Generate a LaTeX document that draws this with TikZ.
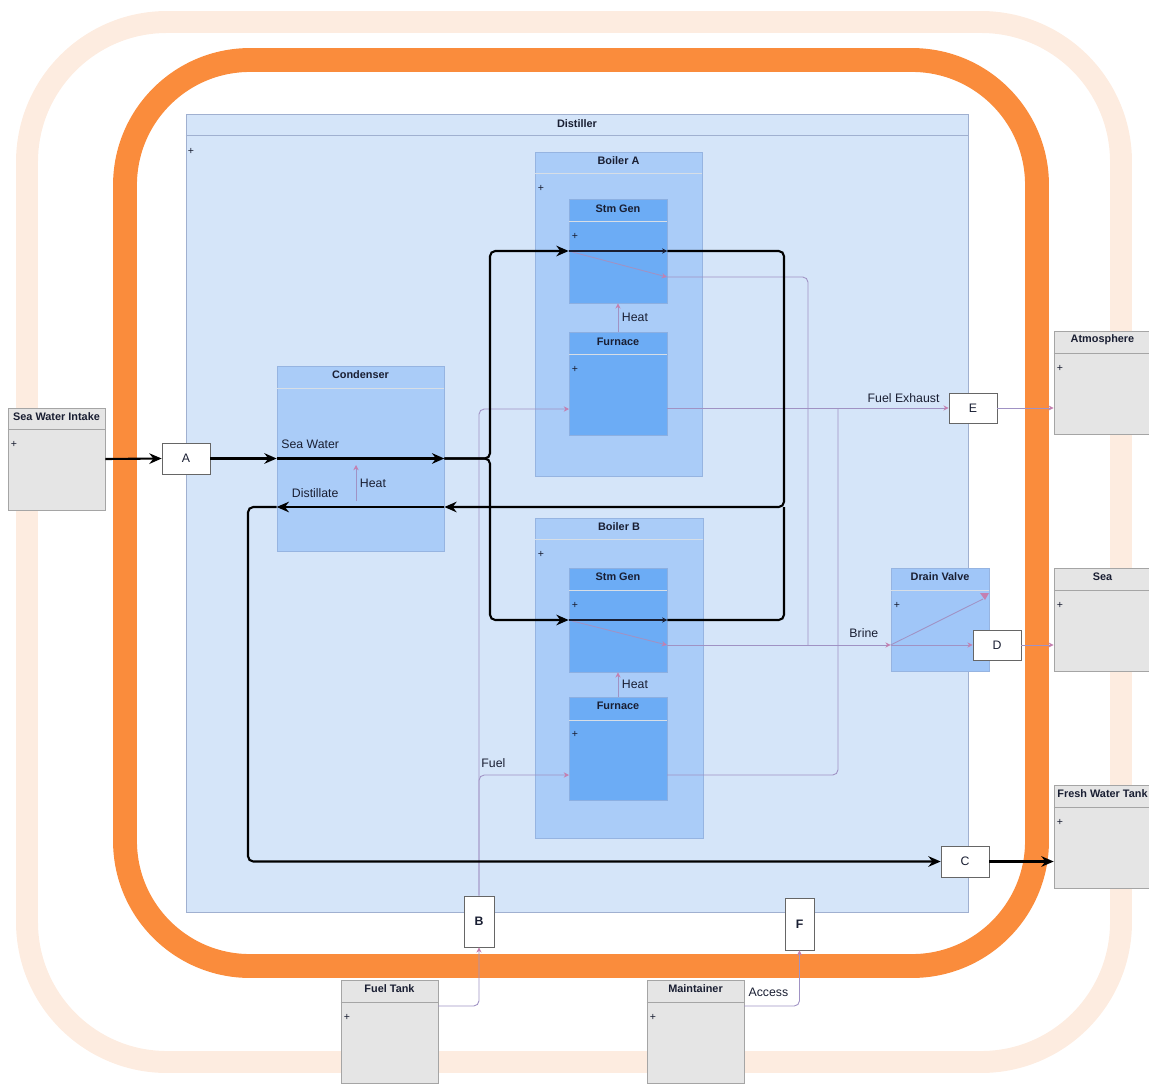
\documentclass[tikz,border=0pt]{standalone}
\usepackage{fontspec}
\setmainfont{Liberation Sans}
\usetikzlibrary{arrows.meta,calc}

\definecolor{ringc}{RGB}{250,140,60}
\definecolor{haloc}{RGB}{253,236,224}
\definecolor{distfill}{RGB}{213,229,249}
\definecolor{distline}{RGB}{160,176,208}
\definecolor{boilfill}{RGB}{170,204,248}
\definecolor{boilline}{RGB}{150,180,225}
\definecolor{partfill}{RGB}{108,172,245}
\definecolor{partline}{RGB}{140,175,225}
\definecolor{hdrline}{RGB}{215,222,230}
\definecolor{extfill}{RGB}{229,229,229}
\definecolor{extline}{RGB}{165,165,165}
\definecolor{linkc}{RGB}{160,146,196}
\definecolor{tipc}{RGB}{196,128,176}
\definecolor{inkc}{RGB}{25,30,50}

\tikzstyle{box}=[rectangle, draw, inner sep=0pt]
\tikzstyle{distbox}=[box, fill=distfill, draw=distline]
\tikzstyle{boilbox}=[box, fill=boilfill, draw=boilline]
\tikzstyle{partbox}=[box, fill=partfill, draw=partline]
\tikzstyle{extbox}=[box, fill=extfill, draw=extline]
\tikzstyle{port}=[box, fill=white, draw=black!60, text=inkc, font=\fontsize{7}{8}\selectfont]
\tikzstyle{hdr}=[draw=hdrline, line width=0.5pt]
\tikzstyle{exthdr}=[draw=extline, line width=0.5pt]
\tikzstyle{title}=[inner sep=0pt, text=inkc, font=\bfseries\fontsize{6.2}{7}\selectfont]
\tikzstyle{lbl}=[inner sep=2pt, text=inkc, font=\fontsize{7}{8}\selectfont]
\tikzstyle{plus}=[inner sep=0pt, text=inkc, font=\fontsize{6}{6}\selectfont]
\tikzstyle{flow}=[line width=1.2pt, rounded corners=3pt, >={Stealth[length=7pt,width=6pt]}]
\tikzstyle{link}=[line width=0.5pt, draw=linkc, rounded corners=3pt, >={Stealth[length=3pt,width=3pt,color=tipc]}]
\tikzstyle{inner}=[line width=0.6pt, draw=inkc, >={Stealth[length=3pt,width=3pt]}]

\begin{document}
\begin{tikzpicture}[x=0.02cm, y=-0.02cm]
\useasboundingbox (0,0) rectangle (1149,1085);

% boundary rings
\draw[haloc, line width=12.5pt, rounded corners=2.8cm] (27,22) rectangle (1121,1062);
\draw[ringc, line width=13.6pt, rounded corners=2.5cm] (125,60) rectangle (1037,966);

% distiller
\node[distbox, minimum width=15.64cm, minimum height=15.96cm] at (577,513) (dist) {};
\draw[distline, line width=0.5pt] ([yshift=-0.44cm]dist.north west) -- ([yshift=-0.44cm]dist.north east);
\node[title] at (577,124) (distT) {Distiller};
\node[plus] at (191,151) (distP) {+};

% boiler A
\node[boilbox, minimum width=3.34cm, minimum height=6.48cm] at (618.5,314) (boA) {};
\draw[hdr] ([yshift=-0.44cm]boA.north west) -- ([yshift=-0.44cm]boA.north east);
\node[title] at (618.5,161) (boAT) {Boiler A};
\node[plus] at (541,188) (boAP) {+};

\node[partbox, minimum width=1.96cm, minimum height=2.08cm] at (618,251) (sgA) {};
\draw[hdr] ([yshift=-0.46cm]sgA.north west) -- ([yshift=-0.46cm]sgA.north east);
\node[title] at (618,209) (sgAT) {Stm Gen};
\node[plus] at (575,236) (sgAP) {+};

\node[partbox, minimum width=1.96cm, minimum height=2.06cm] at (618,383.5) (fnA) {};
\draw[hdr] ([yshift=-0.46cm]fnA.north west) -- ([yshift=-0.46cm]fnA.north east);
\node[title] at (618,342) (fnAT) {Furnace};
\node[plus] at (575,369) (fnAP) {+};

% boiler B
\node[boilbox, minimum width=3.36cm, minimum height=6.4cm] at (619,678) (boB) {};
\draw[hdr] ([yshift=-0.44cm]boB.north west) -- ([yshift=-0.44cm]boB.north east);
\node[title] at (619,527) (boBT) {Boiler B};
\node[plus] at (541,554) (boBP) {+};

\node[partbox, minimum width=1.96cm, minimum height=2.08cm] at (618,620) (sgB) {};
\draw[hdr] ([yshift=-0.46cm]sgB.north west) -- ([yshift=-0.46cm]sgB.north east);
\node[title] at (618,577) (sgBT) {Stm Gen};
\node[plus] at (575,605) (sgBP) {+};

\node[partbox, minimum width=1.96cm, minimum height=2.06cm] at (618,749) (fnB) {};
\draw[hdr] ([yshift=-0.46cm]fnB.north west) -- ([yshift=-0.46cm]fnB.north east);
\node[title] at (618,706) (fnBT) {Furnace};
\node[plus] at (575,734) (fnBP) {+};

% condenser and drain valve
\node[boilbox, minimum width=3.34cm, minimum height=3.7cm] at (360.5,458.5) (cond) {};
\draw[hdr] ([yshift=-0.46cm]cond.north west) -- ([yshift=-0.46cm]cond.north east);
\node[title] at (360.5,375) (condT) {Condenser};

\node[boilbox, fill={rgb,255:red,160;green,198;blue,248}, minimum width=1.96cm, minimum height=2.06cm] at (940,619.5) (dv) {};
\draw[hdr] ([yshift=-0.46cm]dv.north west) -- ([yshift=-0.46cm]dv.north east);
\node[title] at (940,577) (dvT) {Drain Valve};
\node[plus] at (897,605) (dvP) {+};

% outside the boundary
\node[extbox, minimum width=1.94cm, minimum height=2.04cm] at (56.5,459) (swi) {};
\draw[exthdr] ([yshift=-0.44cm]swi.north west) -- ([yshift=-0.44cm]swi.north east);
\node[title] at (56.5,417) (swiT) {Sea Water Intake};
\node[plus] at (14,444) (swiP) {+};

\node[extbox, minimum width=1.94cm, minimum height=2.06cm] at (1102.5,382.5) (atm) {};
\draw[exthdr] ([yshift=-0.46cm]atm.north west) -- ([yshift=-0.46cm]atm.north east);
\node[title] at (1102.5,340) (atmT) {Atmosphere};
\node[plus] at (1060,368) (atmP) {+};

\node[extbox, minimum width=1.94cm, minimum height=2.06cm] at (1102.5,619.5) (sea) {};
\draw[exthdr] ([yshift=-0.46cm]sea.north west) -- ([yshift=-0.46cm]sea.north east);
\node[title] at (1102.5,577) (seaT) {Sea};
\node[plus] at (1060,605) (seaP) {+};

\node[extbox, minimum width=1.94cm, minimum height=2.06cm] at (1102.5,836.5) (fwt) {};
\draw[exthdr] ([yshift=-0.46cm]fwt.north west) -- ([yshift=-0.46cm]fwt.north east);
\node[title] at (1102.5,794) (fwtT) {Fresh Water Tank};
\node[plus] at (1060,822) (fwtP) {+};

\node[extbox, minimum width=1.94cm, minimum height=2.06cm] at (389.5,1031.5) (ft) {};
\draw[exthdr] ([yshift=-0.46cm]ft.north west) -- ([yshift=-0.46cm]ft.north east);
\node[title] at (389.5,989) (ftT) {Fuel Tank};
\node[plus] at (347,1017) (ftP) {+};

\node[extbox, minimum width=1.94cm, minimum height=2.06cm] at (695.5,1031.5) (mt) {};
\draw[exthdr] ([yshift=-0.46cm]mt.north west) -- ([yshift=-0.46cm]mt.north east);
\node[title] at (695.5,989) (mtT) {Maintainer};
\node[plus] at (653,1017) (mtP) {+};

% ports
\node[port, minimum width=0.96cm, minimum height=0.62cm] at (186,458.5) (a) {A};
\node[port, minimum width=0.96cm, minimum height=0.6cm] at (973,408) (e) {E};
\node[port, minimum width=0.96cm, minimum height=0.6cm] at (997,645) (d) {D};
\node[port, minimum width=0.96cm, minimum height=0.62cm] at (965,861.5) (c) {C};
\node[port, minimum width=0.6cm, minimum height=1.02cm] at (479,921.5) (b) {\bfseries B};
\node[port, minimum width=0.58cm, minimum height=1.04cm] at (799.5,924) (f) {\bfseries F};

\coordinate (split) at (490,458.5);
\coordinate (ret) at (784,507);
\coordinate (dcnr) at (248,861.5);
\coordinate (chB) at (356,501);
\coordinate (chT) at (356,465);
\coordinate (brA) at (667,277);
\coordinate (brB) at (667,645);
\coordinate (brJ) at (808,645);
\coordinate (fuelA) at (569,409);
\coordinate (fuelB) at (569,775);
\coordinate (exA) at (667,408);
\coordinate (exB) at (667,775);
\coordinate (exJ) at (838,408);
\coordinate (dvTop) at (983,599);
\coordinate (ftOut) at (438,1006);
\coordinate (mtOut) at (744,1006);

% heat, fuel, exhaust, brine
\draw[link, ->] (chB) -- (chT) node[lbl, midway, right] (chL) {Heat};
\draw[link, ->] (fnA.north) -- (sgA.south) node[lbl, midway, right] (htA) {Heat};
\draw[link, ->] (fnB.north) -- (sgB.south) node[lbl, midway, right] (htB) {Heat};
\draw[link, ->] (sgA.west) -- (brA);
\draw[link, ->] (sgB.west) -- (brB);
\draw[link] (brA) -| (brJ);
\draw[link, ->] (brB) -- (dv.west |- brB) node[lbl, pos=0.88, above=2pt] (brL) {Brine};
\draw[link, ->] (dv.west |- brB) -- (d.west);
\draw[link] (dv.west |- brB) -- (dvTop);
\fill[tipc] (980,593) -- (989,593) -- (985,600) -- cycle;
\draw[link, ->] (d.east) -- (sea.west |- d.east);
\draw[link, ->] (b.north) |- (fuelA);
\draw[link, ->] (b.north) |- (fuelB) node[lbl, pos=0.58, above=2pt] (fuL) {Fuel};
\draw[link, ->] (exA) -- (e.west) node[lbl, pos=0.84, above=1pt] (exL) {Fuel Exhaust};
\draw[link] (exB) -| (exJ);
\draw[link, ->] (e.east) -- (atm.west |- e.east);
\draw[link, ->] (ftOut) -| (b.south);
\draw[link, ->] (mtOut) -| (f.south) node[lbl, pos=0.22, above=3pt] (acL) {Access};

% water
\draw[flow, ->] (swi.east) -- (a.west);
\draw[flow, ->] (a.east) -- (cond.west);
\draw[flow, ->] (cond.west) -- (cond.east) node[lbl, pos=0.2, above=3pt] (swL) {Sea Water};
\draw[flow, ->] (cond.east) -- (split) |- (sgA.west);
\draw[flow, ->] (cond.east) -- (split) |- (sgB.west);
\draw[inner, ->] (sgA.west) -- (sgA.east);
\draw[inner, ->] (sgB.west) -- (sgB.east);
\draw[flow, ->] (sgA.east) -| (ret) -- (cond.east |- ret);
\draw[flow] (sgB.east) -| (ret);
\draw[flow, ->] (cond.east |- ret) -- (cond.west |- ret) node[lbl, pos=0.77, above=3pt] (dsL) {Distillate};
\draw[flow, ->] (cond.west |- ret) -| (dcnr) -- (c.west);
\draw[flow, ->] (c.east) -- (fwt.west |- c.east);
\end{tikzpicture}
\end{document}
